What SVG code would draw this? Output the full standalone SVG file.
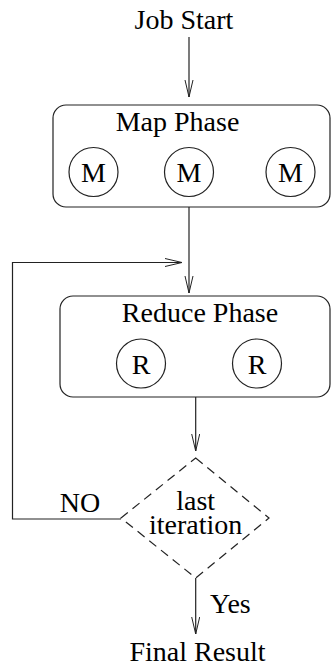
<svg xmlns="http://www.w3.org/2000/svg" width="331" height="667" viewBox="0 0 331 667" font-family="'Liberation Serif', 'DejaVu Serif', serif">
<defs>
<marker id="arr" markerUnits="userSpaceOnUse" markerWidth="20" markerHeight="10" refX="18" refY="4.5" orient="auto">
<path d="M1,0.5 L18,4.5 L1,8.5" fill="none" stroke="#222" stroke-width="1"/>
</marker>
</defs>
<style>
text{font-family:'Liberation Serif','DejaVu Serif',serif;font-size:28px;fill:#000;text-anchor:middle}
.box{fill:#fff;stroke:#222;stroke-width:1.2}
.c{fill:#fff;stroke:#222;stroke-width:1.2}
.ln{fill:none;stroke:#222;stroke-width:1.2}
.dia{fill:#fff;stroke:#222;stroke-width:1.2;stroke-dasharray:9 6}
</style>
<g id="connectors">
<line class="ln" x1="189" y1="37" x2="189" y2="97" marker-end="url(#arr)"/>
<line class="ln" x1="189" y1="207" x2="189" y2="293" marker-end="url(#arr)"/>
<polyline class="ln" points="121,519 12.5,519 12.5,262.5 182,262.5" marker-end="url(#arr)"/>
<line class="ln" x1="195.7" y1="397" x2="195.7" y2="451" marker-end="url(#arr)"/>
<line class="ln" x1="195.7" y1="578" x2="195.7" y2="634" marker-end="url(#arr)"/>
</g>
<g id="start"><text x="184" y="29">Job Start</text></g>
<g id="map">
<rect class="box" x="53" y="105" width="277" height="102" rx="13"/>
<text x="177.5" y="131">Map Phase</text>
<g id="m1"><circle class="c" cx="93.5" cy="172" r="24.5"/><text x="93.5" y="182">M</text></g>
<g id="m2"><circle class="c" cx="189" cy="172" r="24.5"/><text x="189" y="182">M</text></g>
<g id="m3"><circle class="c" cx="290.5" cy="172" r="24.5"/><text x="290.5" y="182">M</text></g>
</g>
<g id="reduce">
<rect class="box" x="60" y="296" width="270" height="101" rx="13"/>
<text x="200" y="322">Reduce Phase</text>
<g id="r1"><circle class="c" cx="141" cy="363.5" r="24.5"/><text x="141" y="373.5">R</text></g>
<g id="r2"><circle class="c" cx="257" cy="363.5" r="24.5"/><text x="257" y="373.5">R</text></g>
</g>
<g id="decision">
<polygon class="dia" points="195.7,458 269,518 195.7,578 121,518"/>
<text x="195.7" y="510">last</text>
<text x="195.7" y="534">iteration</text>
</g>
<g id="labels">
<text x="80" y="512">NO</text>
<text x="210" y="613" style="text-anchor:start">Yes</text>
</g>
<g id="end"><text x="197.5" y="661">Final Result</text></g>
</svg>
